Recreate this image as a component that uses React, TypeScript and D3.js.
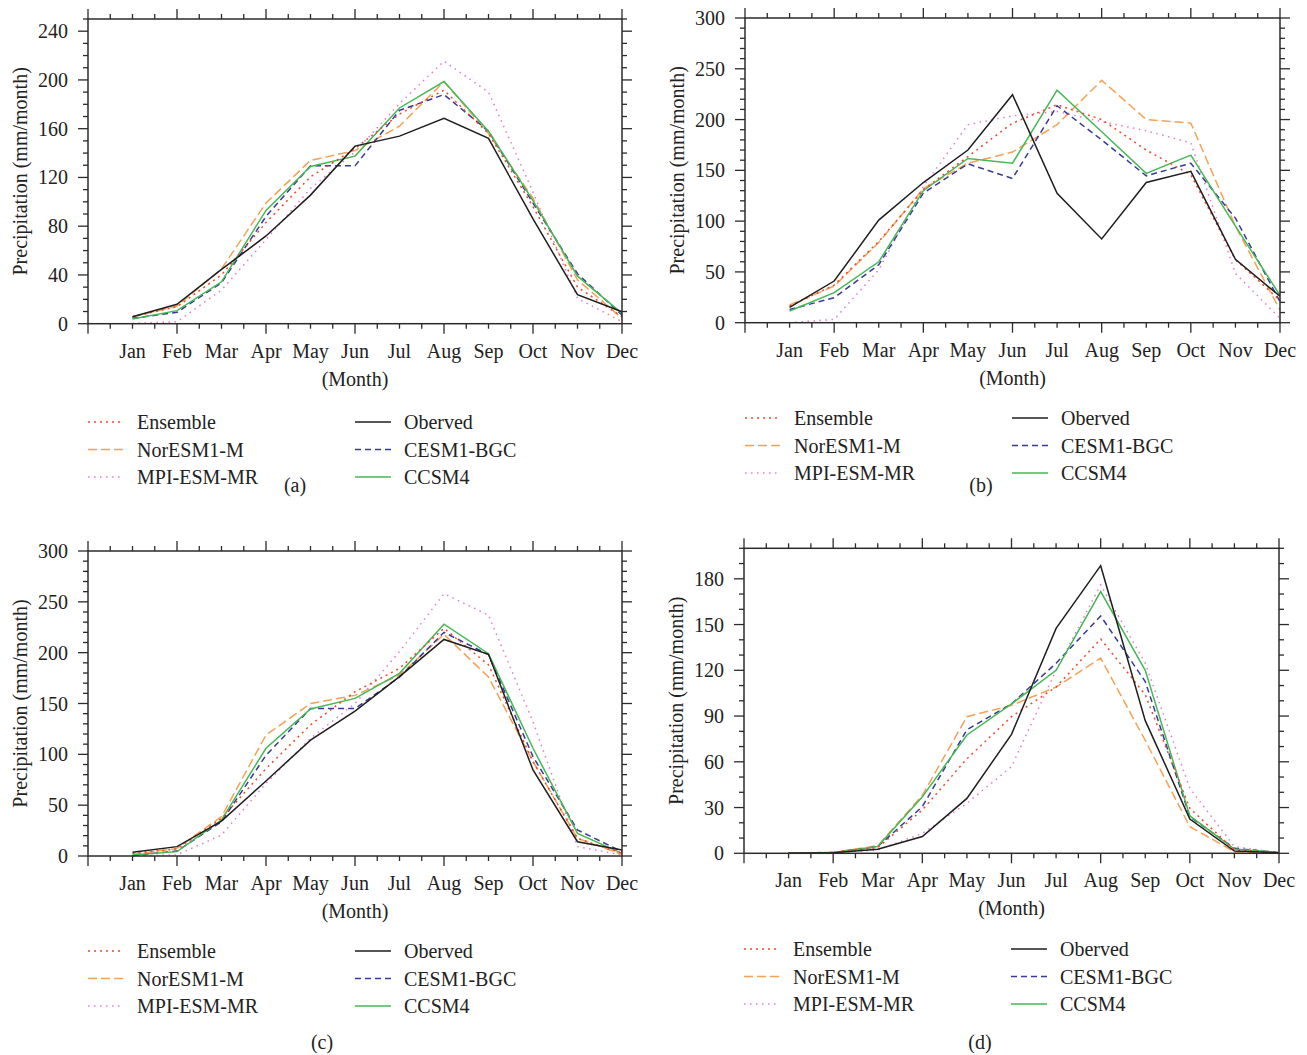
import React from "react";
import * as d3 from "d3";

const months = ["Jan", "Feb", "Mar", "Apr", "May", "Jun", "Jul", "Aug", "Sep", "Oct", "Nov", "Dec"];
const seriesNames = ["Ensemble", "NorESM1-M", "MPI-ESM-MR", "Oberved", "CESM1-BGC", "CCSM4"];

// (a)
const aEnsemble = [5.7, 14, 40, 83, 120.5, 143.7, 172, 191.6, 156, 96, 30, 5.7];
const aNorESM = [5.7, 14.5, 45, 99, 134, 142, 162, 198.7, 156, 103, 36, 4.4];
const aMPI = [0.3, 1.6, 27.6, 69, 111, 141, 180.6, 215.4, 190, 108, 20.8, 1.6];
const aObserved = [5.7, 15.9, 44.5, 72, 105.5, 145.7, 153.9, 168.6, 152, 86, 23.8, 9.8];
const aCESM = [4.4, 9.3, 33.6, 88, 129.5, 129.5, 175, 188, 158, 99, 41, 7];
const aCCSM = [3.8, 10.7, 34.4, 93, 129, 137.5, 177, 198.7, 158, 101, 39, 8.5];

// (b)
const bEnsemble = [16.4, 37, 80, 131, 163.6, 196.5, 214.6, 200, 170, 145.6, 62, 22];
const bNorESM = [17.4, 36, 79, 132, 157, 168, 195, 238.6, 200, 196.5, 95, 12.5];
const bMPI = [0, 3.3, 52, 134, 195, 203.7, 208, 198, 189, 177, 48.6, 4.3];
const bObserved = [15, 41, 101, 138, 170, 224.5, 127.5, 82.5, 138, 149, 62.4, 26];
const bCESM = [13, 24.6, 57, 127.5, 156.4, 142, 213.6, 180, 144.6, 157, 103, 20.7];
const bCCSM = [11.5, 29.6, 60, 130, 161.7, 157, 229, 188, 147, 165, 95, 27];

// (c)
const cEnsemble = [2.6, 6.9, 37, 86, 129, 161.6, 184.6, 224, 188, 92.8, 17.4, 2.6];
const cNorESM = [1.6, 7.5, 38.7, 119, 150, 158, 178, 218, 176, 93, 17.4, 1.6];
const cMPI = [0, 1, 20.7, 71.5, 115.7, 150, 201, 258, 237, 132, 9.2, 1];
const cObserved = [3.6, 9.2, 34.4, 73.8, 114, 142.6, 176.4, 213, 198.4, 84.6, 14, 5.9];
const cCESM = [0.3, 4.9, 33.8, 99, 145, 145, 176, 220, 198, 97.7, 25.6, 4.3];
const cCCSM = [1, 4.3, 35.4, 106, 144.6, 155, 179.7, 228, 199, 106, 22.3, 2.6];

// (d)
const dEnsemble = [0, 0.7, 3.7, 28.4, 62, 89.6, 109, 140.5, 104, 29.5, 2.2, 0.4];
const dNorESM = [0, 0.7, 5, 38, 89.6, 97, 109, 128, 74, 17.5, 1, 0];
const dMPI = [0, 0.4, 2.2, 13, 32.8, 56.8, 120, 176, 124.6, 42.6, 4.4, 0.4];
const dObserved = [0, 0.4, 2.6, 11, 36, 78, 147.5, 188.6, 87, 22.5, 1.5, 0.4];
const dCESM = [0, 0.4, 4.4, 30.6, 81, 98, 124.6, 155.6, 112.6, 24, 3.3, 0.4];
const dCCSM = [0, 0.4, 4.4, 37, 77.6, 98, 120, 171.6, 120, 24.5, 2.8, 0.4];

const colors = ["#f0492b", "#f6a156", "#e57bcd", "#1e1e1e", "#39399a", "#45b855"];
const dashes = ["2,4", "9,4", "1.5,4.5", null, "6,4", null];
const drawOrder = [2, 1, 4, 5, 0, 3];

const panels = [
  { id: "a", left: 88, right: 622, top: 19, bottom: 323.7, max: 250, major: 40, legendY: 422, capX: 295, capY: 492,
    data: [aEnsemble, aNorESM, aMPI, aObserved, aCESM, aCCSM] },
  { id: "b", left: 745, right: 1280, top: 18, bottom: 322.7, max: 300, major: 50, legendY: 418, capX: 981, capY: 492,
    data: [bEnsemble, bNorESM, bMPI, bObserved, bCESM, bCCSM] },
  { id: "c", left: 88, right: 622, top: 551, bottom: 856, max: 300, major: 50, legendY: 951, capX: 322, capY: 1049,
    data: [cEnsemble, cNorESM, cMPI, cObserved, cCESM, cCCSM] },
  { id: "d", left: 744, right: 1279, top: 548.3, bottom: 853.3, max: 200, major: 30, legendY: 949, capX: 980, capY: 1049,
    data: [dEnsemble, dNorESM, dMPI, dObserved, dCESM, dCCSM] },
];

const axisColor = "#2b2b2b";
const font = "'Liberation Serif', 'Times New Roman', serif";

function Panel({ p }: { p: any }) {
  const x = d3.scaleLinear().domain([0, 12]).range([p.left, p.right]);
  const y = d3.scaleLinear().domain([0, p.max]).range([p.bottom, p.top]);
  const line = d3.line<number>().x((d, i) => x(i + 1)).y(d => y(d));

  const xTicks = d3.range(0, 12.001, 0.5);
  const yTicks = d3.range(0, p.max + 0.001, 10);
  const yMajor = yTicks.filter(v => v % p.major === 0);

  return (
    <g>
      {xTicks.map((v, i) => {
        const len = v % 2 === 0 ? 10 : 5;
        return (
          <g key={"xt" + i} stroke={axisColor} strokeWidth={1.3}>
            <line x1={x(v)} x2={x(v)} y1={p.top} y2={p.top - len} />
            <line x1={x(v)} x2={x(v)} y1={p.bottom} y2={p.bottom + len} />
          </g>
        );
      })}
      {yTicks.map((v, i) => {
        const len = v % p.major === 0 ? 10 : 5;
        return (
          <g key={"yt" + i} stroke={axisColor} strokeWidth={1.3}>
            <line x1={p.left} x2={p.left - len} y1={y(v)} y2={y(v)} />
            <line x1={p.right} x2={p.right + len} y1={y(v)} y2={y(v)} />
          </g>
        );
      })}
      {drawOrder.map(k => (
        <path key={"s" + k} d={line(p.data[k]) || ""} fill="none" stroke={colors[k]}
          strokeWidth={1.5} strokeDasharray={dashes[k] || undefined} />
      ))}
      <rect x={p.left} y={p.top} width={p.right - p.left} height={p.bottom - p.top}
        fill="none" stroke={axisColor} strokeWidth={1.5} />
      {yMajor.map(v => (
        <text key={"yl" + v} x={p.left - 20} y={y(v)} dy="0.35em" textAnchor="end">{v}</text>
      ))}
      {months.map((m, i) => (
        <text key={m} x={x(i + 1)} y={p.bottom + 34} textAnchor="middle">{m}</text>
      ))}
      <text x={(p.left + p.right) / 2} y={p.bottom + 62} textAnchor="middle">(Month)</text>
      <text transform={`translate(${p.left - 61},${(p.top + p.bottom) / 2}) rotate(-90)`} textAnchor="middle">
        Precipitation (mm/month)
      </text>
      {seriesNames.map((name, k) => {
        const col = k < 3 ? 0 : 1;
        const row = k % 3;
        const lx = p.left + (col === 0 ? 0 : 267);
        const ly = p.legendY + row * 27.5;
        return (
          <g key={name}>
            <line x1={lx} x2={lx + 36} y1={ly} y2={ly} stroke={colors[k]} strokeWidth={1.5}
              strokeDasharray={dashes[k] || undefined} />
            <text x={lx + 49} y={ly} dy="0.35em">{name}</text>
          </g>
        );
      })}
      <text x={p.capX} y={p.capY} textAnchor="middle">({p.id})</text>
    </g>
  );
}

export default function App() {
  return (
    <div style={{ position: "absolute", left: 0, top: 0 }}>
      <svg width={1307} height={1055} style={{ display: "block", background: "#fff" }}
        fontFamily={font} fontSize={20} fill="#222">
        {panels.map(p => <Panel key={p.id} p={p} />)}
      </svg>
    </div>
  );
}
